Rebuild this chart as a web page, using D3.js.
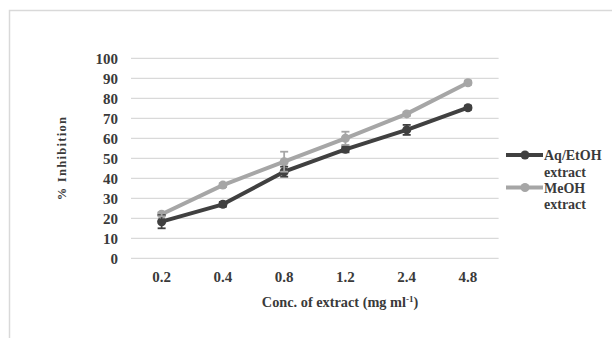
<!DOCTYPE html>
<html>
<head>
<meta charset="utf-8">
<script src="https://cdn.jsdelivr.net/npm/d3@7"></script>
<style>
  body { margin: 0; background: #fff; }
  svg { display: block; }
  text { font-family: "Liberation Serif", "Times New Roman", serif; font-weight: bold; fill: #3a3a3a; }
</style>
</head>
<body>
<script>
let categories = ["0.2", "0.4", "0.8", "1.2", "2.4", "4.8"]
let aqEtoh = [18.3, 27, 43.3, 54.5, 64.2, 75.3]
let aqEtohErr = [3.3, 1.2, 2.5, 1.5, 2.5, 1]
let meoh = [22, 36.6, 48.3, 60, 72.2, 87.8]
let meohErr = [1, 1, 5, 3.3, 1, 1]
let yTicks = [0, 10, 20, 30, 40, 50, 60, 70, 80, 90, 100]

let w = 612, h = 338
let svg = d3.select("body").append("svg").attr("width", w).attr("height", h)

svg.append("rect")
    .attr("x", 9.5).attr("y", 10.5)
    .attr("width", 700).attr("height", 400)
    .attr("fill", "none").attr("stroke", "#d9d9d9").attr("stroke-width", 1.5)

let xScale = d3.scaleBand().domain(categories).range([131, 498.6])
let yScale = d3.scaleLinear().domain([0, 100]).range([258.3, 58.3])

// gridlines
svg.append("g").selectAll("line")
    .data(yTicks).enter().append("line")
    .attr("x1", 131).attr("x2", 498.6)
    .attr("y1", d => yScale(d)).attr("y2", d => yScale(d))
    .attr("stroke", "#d9d9d9").attr("stroke-width", 1.3)

let yAxis = d3.axisLeft(yScale).tickValues(yTicks).tickSize(0).tickPadding(13)
let gy = svg.append("g").attr("transform", "translate(131,0)").call(yAxis)
gy.select(".domain").remove()
gy.selectAll("text").style("font-size", "15px").style("font-family", null).attr("fill", "#3a3a3a")

let xAxis = d3.axisBottom(xScale).tickSize(0).tickPadding(8.5)
let gx = svg.append("g").attr("transform", "translate(0,263)").call(xAxis)
gx.select(".domain").remove()
gx.selectAll("text").style("font-size", "15px").style("font-family", null).attr("fill", "#3a3a3a")

// axis titles
svg.append("text")
    .attr("transform", "translate(66,158) rotate(-90)")
    .attr("text-anchor", "middle")
    .style("font-size", "12.5px").style("letter-spacing", "1.3px")
    .text("% Inhibition")

let xt = svg.append("text")
    .attr("x", 340).attr("y", 307)
    .attr("text-anchor", "middle")
    .style("font-size", "14.3px")
xt.append("tspan").text("Conc. of extract (mg ml")
xt.append("tspan").attr("dy", -5.5).style("font-size", "9px").text("-1")
xt.append("tspan").attr("dy", 5.5).text(")")

let series = [
    {name: ["Aq/EtOH", "extract"], values: aqEtoh, err: aqEtohErr, color: "#404040"},
    {name: ["MeOH", "extract"], values: meoh, err: meohErr, color: "#a6a6a6"}
]

let line = d3.line()
    .x((d, i) => xScale(categories[i]) + xScale.bandwidth() / 2)
    .y(d => yScale(d))

series.forEach(s => {
    let g = svg.append("g")
    g.append("path").datum(s.values)
        .attr("d", line).attr("fill", "none")
        .attr("stroke", s.color).attr("stroke-width", 4)
        .attr("stroke-linejoin", "round")
    g.selectAll("circle").data(s.values).enter().append("circle")
        .attr("cx", (d, i) => xScale(categories[i]) + xScale.bandwidth() / 2)
        .attr("cy", d => yScale(d))
        .attr("r", 4.5).attr("fill", s.color)
})

// error bars drawn on top
series.forEach(s => {
    let g = svg.append("g").attr("stroke", s.color).attr("stroke-width", 1.8)
    s.values.forEach((v, i) => {
        let cx = xScale(categories[i]) + xScale.bandwidth() / 2
        let y1 = yScale(v - s.err[i]), y2 = yScale(v + s.err[i])
        g.append("line").attr("x1", cx).attr("x2", cx).attr("y1", y1).attr("y2", y2)
        g.append("line").attr("x1", cx - 4).attr("x2", cx + 4).attr("y1", y1).attr("y2", y1)
        g.append("line").attr("x1", cx - 4).attr("x2", cx + 4).attr("y1", y2).attr("y2", y2)
    })
})

// legend
series.forEach((s, i) => {
    let ly = 155 + i * 32.5
    let g = svg.append("g")
    g.append("line").attr("x1", 506).attr("x2", 543).attr("y1", ly).attr("y2", ly)
        .attr("stroke", s.color).attr("stroke-width", 4)
    g.append("circle").attr("cx", 525).attr("cy", ly).attr("r", 4.5).attr("fill", s.color)
    s.name.forEach((t, j) => {
        g.append("text").attr("x", 544).attr("y", ly + 5 + j * 16.5)
            .style("font-size", "14px").text(t)
    })
})
</script>
</body>
</html>
